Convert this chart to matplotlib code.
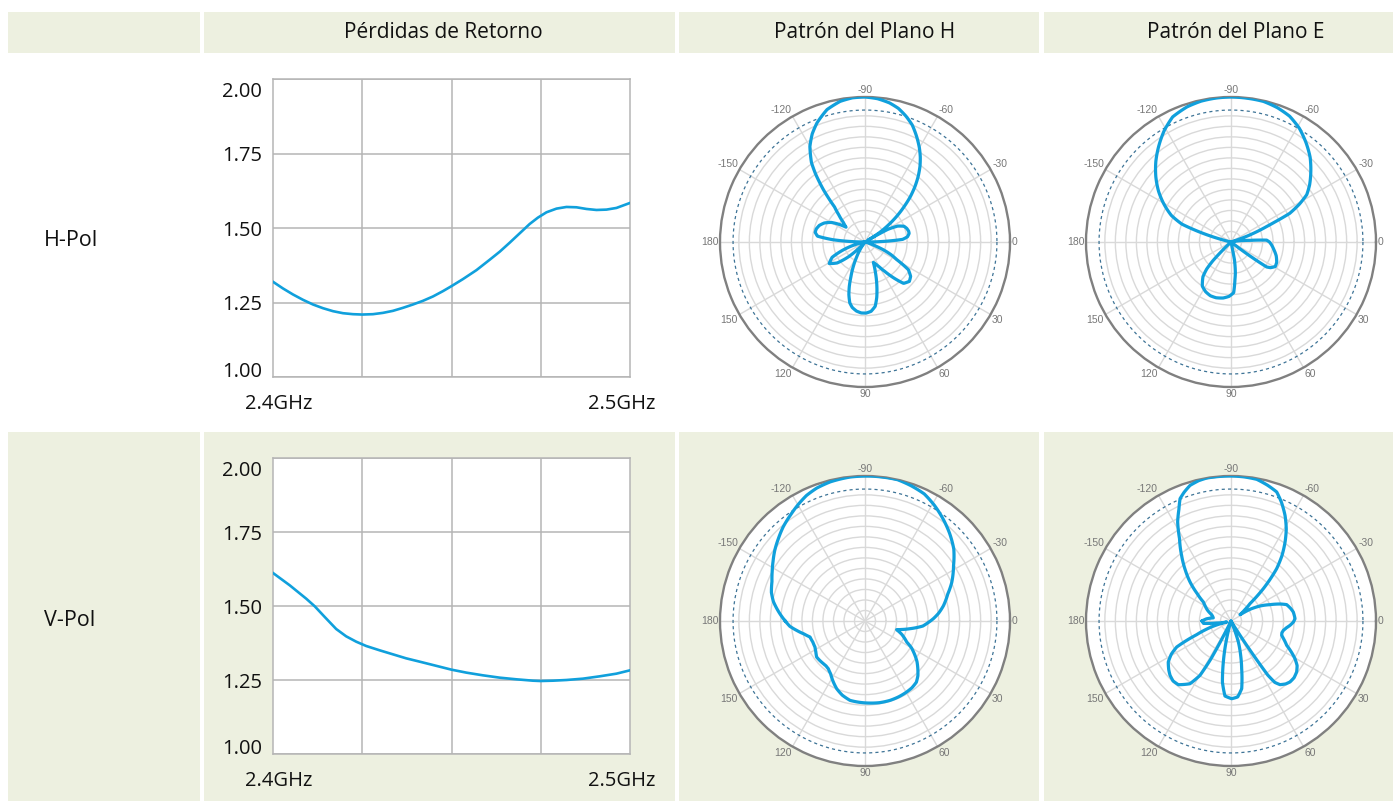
import numpy as np
import matplotlib.pyplot as plt
from matplotlib.patches import Rectangle
import matplotlib.transforms as mtransforms

plt.rcParams['font.family'] = ['Open Sans', 'DejaVu Sans']

W, H = 1396, 801
GREEN = '#edf0e0'
BLUE = '#10a0dc'
GRID = '#b5b5b5'
TEXT = '#111111'

col_titles = ['Pérdidas de Retorno', 'Patrón del Plano H', 'Patrón del Plano E']
row_titles = ['H-Pol', 'V-Pol']

# return loss (VSWR) curves, GHz
freq_h = [2.4000, 2.4028, 2.4056, 2.4084, 2.4112, 2.4140, 2.4168, 2.4196, 2.4224, 2.4250,
          2.4280, 2.4308, 2.4336, 2.4364, 2.4392, 2.4420, 2.4448, 2.4476, 2.4500, 2.4532,
          2.4570, 2.4607, 2.4635, 2.4663, 2.4691, 2.4719, 2.4742, 2.4766, 2.4794, 2.4822,
          2.4850, 2.4878, 2.4906, 2.4934, 2.4962, 2.5000]
vswr_h = [1.3195, 1.2971, 1.2769, 1.2590, 1.2433, 1.2309, 1.2209, 1.2141, 1.2108, 1.2096,
          1.2108, 1.2152, 1.2220, 1.2321, 1.2433, 1.2556, 1.2702, 1.2881, 1.3049, 1.3285,
          1.3587, 1.3935, 1.4204, 1.4507, 1.4821, 1.5135, 1.5348, 1.5527, 1.5650, 1.5706,
          1.5695, 1.5639, 1.5605, 1.5617, 1.5673, 1.5841]

freq_v = [2.4000, 2.4047, 2.4093, 2.4117, 2.4145, 2.4177, 2.4205, 2.4233, 2.4261, 2.4299,
          2.4336, 2.4373, 2.4411, 2.4448, 2.4500, 2.4542, 2.4588, 2.4635, 2.4682, 2.4728,
          2.4749, 2.4784, 2.4822, 2.4868, 2.4915, 2.4962, 2.5000]
vswr_v = [1.6115, 1.5698, 1.5248, 1.4989, 1.4628, 1.4223, 1.3975, 1.3795, 1.3649, 1.3502,
          1.3367, 1.3232, 1.3119, 1.3007, 1.2849, 1.2748, 1.2658, 1.2579, 1.2523, 1.2477,
          1.2466, 1.2477, 1.2500, 1.2545, 1.2624, 1.2714, 1.2827]

# radiation patterns: angle in degrees (0 = right, clockwise), relative radius
hpol_h_ang = [-180, -178, -176, -173, -169, -165, -160, -155, -150, -146, -142, -138, -134,
              -131, -128.5, -126, -124, -120, -116, -112, -106, -100, -95, -90, -85, -80,
              -76, -72, -68, -64, -60, -57, -54, -51, -48, -45, -42, -39, -36, -33, -31,
              -29, -26, -22, -18, -14, -11, -7, -4, -2, 0, 5, 15, 20, 23, 26, 29, 32.6,
              37, 41.6, 47, 50, 53, 56, 60, 63, 67.7, 71, 75, 78, 81, 85, 89, 93, 97,
              101, 104, 107, 109.5, 112, 115.6, 119, 123, 128, 133, 138, 143, 149, 155,
              160, 166, 170, 180]
hpol_h_r = [0.0, 0.10, 0.22, 0.33, 0.35, 0.348, 0.335, 0.31, 0.27, 0.22, 0.166, 0.20, 0.26,
            0.32, 0.46, 0.58, 0.66, 0.76, 0.83, 0.885, 0.95, 0.985, 0.998, 1.0, 0.992, 0.974,
            0.95, 0.913, 0.87, 0.811, 0.75, 0.70, 0.645, 0.583, 0.515, 0.442, 0.36, 0.281,
            0.20, 0.12, 0.02, 0.18, 0.25, 0.29, 0.303, 0.31, 0.31, 0.295, 0.26, 0.14, 0.02,
            0.0, 0.0, 0.06, 0.137, 0.20, 0.25, 0.355, 0.394, 0.409, 0.39, 0.339, 0.29, 0.245,
            0.20, 0.176, 0.152, 0.22, 0.316, 0.39, 0.449, 0.48, 0.49, 0.49, 0.48, 0.46,
            0.433, 0.38, 0.324, 0.26, 0.186, 0.12, 0.063, 0.0, 0.03, 0.15, 0.24, 0.288,
            0.25, 0.16, 0.05, 0.0, 0.0]

hpol_e_ang = [-180, -167, -165, -163, -160, -156, -150, -145, -139, -133, -127, -121, -115,
              -108, -102, -96, -90, -84, -77, -71, -65, -59, -53, -47, -41, -36, -32, -29,
              -26, -24.5, -23.5, -21.5, -20, -19, -18, -11, -7, -5, -3, 0, 4, 10, 17, 24,
              29, 33, 35, 36, 37, 38, 78, 79, 82, 84, 87, 92, 98, 105, 111, 117, 123, 129,
              132, 134, 135.5, 137, 180]
hpol_e_r = [0.0, 0.0, 0.08, 0.19, 0.36, 0.45, 0.539, 0.61, 0.687, 0.76, 0.828, 0.895, 0.952,
            0.98, 0.993, 0.998, 1.0, 0.998, 0.995, 0.98, 0.957, 0.915, 0.859, 0.80, 0.729,
            0.67, 0.616, 0.54, 0.45, 0.33, 0.27, 0.18, 0.115, 0.05, 0.0, 0.02, 0.08, 0.13,
            0.246, 0.265, 0.28, 0.30, 0.326, 0.345, 0.349, 0.325, 0.30, 0.20, 0.10, 0.0,
            0.0, 0.124, 0.216, 0.26, 0.35, 0.375, 0.39, 0.398, 0.397, 0.385, 0.363, 0.307,
            0.25, 0.18, 0.08, 0.0, 0.0]

vpol_h_ang = [-180, -175, -168, -163, -157, -152, -147, -142, -136.5, -131, -125, -120, -115,
              -110, -104, -96, -88, -82, -77, -71, -65, -59, -53, -46, -39, -32, -24, -18,
              -11, -6, -2, 2, 5, 9.7, 13, 15.3, 20, 26.7, 30, 34.5, 38, 42, 46, 50, 55, 60,
              66, 72.5, 80, 86.5, 94, 100.7, 107, 112.7, 118, 123, 127.6, 131, 134.3, 139,
              143.3, 148, 152.5, 158, 163.8, 168, 172.2, 176, 180]
vpol_h_r = [0.55, 0.59, 0.646, 0.675, 0.697, 0.725, 0.756, 0.79, 0.824, 0.86, 0.894, 0.925,
            0.955, 0.975, 0.989, 0.998, 1.0, 1.0, 1.0, 0.985, 0.967, 0.93, 0.889, 0.84,
            0.788, 0.72, 0.655, 0.60, 0.551, 0.51, 0.472, 0.43, 0.40, 0.315, 0.26, 0.226,
            0.27, 0.322, 0.37, 0.418, 0.455, 0.49, 0.525, 0.551, 0.563, 0.568, 0.572, 0.574,
            0.572, 0.567, 0.562, 0.557, 0.535, 0.506, 0.47, 0.435, 0.415, 0.41, 0.411, 0.414,
            0.416, 0.40, 0.389, 0.388, 0.395, 0.43, 0.476, 0.52, 0.55]

vpol_e_ang = [-180, -175, -170, -166, -162, -155, -150, -145.5, -141, -136.4, -132, -127, -122,
              -118.3, -115, -112.6, -110, -106.8, -103, -99.7, -95, -90, -85, -79.7, -75,
              -70.5, -67, -62.9, -59, -55.6, -52, -48.9, -47, -45, -43.5, -42.4, -39, -35,
              -31.6, -27, -22.7, -19, -16.4, -12, -8.2, -2.1, 1, 4.2, 7, 10.1, 13, 15.8, 19,
              23.6, 27, 30.5, 34, 37.8, 42, 45.9, 49, 52.4, 54.5, 55.8, 56.3, 57, 58, 60, 67,
              68, 70.7, 74.3, 77.4, 81, 85, 89.5, 94.6, 98, 100.6, 103.8, 106, 115, 116.5,
              117.3, 118, 119.7, 123.2, 129.6, 134, 138.3, 142, 146.8, 151, 154.4, 158.3, 161,
              164, 167, 172, 175, 180]
vpol_e_r = [0.20, 0.17, 0.124, 0.13, 0.14, 0.18, 0.205, 0.231, 0.30, 0.39, 0.47, 0.566, 0.67,
            0.776, 0.85, 0.914, 0.945, 0.977, 0.993, 1.0, 1.0, 1.0, 0.998, 0.993, 0.97, 0.944,
            0.89, 0.818, 0.74, 0.66, 0.57, 0.479, 0.40, 0.315, 0.24, 0.177, 0.12, 0.076,
            0.154, 0.23, 0.292, 0.36, 0.40, 0.42, 0.434, 0.442, 0.43, 0.408, 0.385, 0.367,
            0.36, 0.363, 0.385, 0.419, 0.465, 0.512, 0.55, 0.573, 0.585, 0.585, 0.575, 0.554,
            0.52, 0.45, 0.35, 0.22, 0.08, 0.0, 0.0, 0.05, 0.153, 0.246, 0.337, 0.472, 0.526,
            0.536, 0.519, 0.425, 0.288, 0.125, 0.03, 0.0, 0.08, 0.20, 0.30, 0.431, 0.517,
            0.57, 0.575, 0.563, 0.545, 0.517, 0.47, 0.415, 0.255, 0.19, 0.12, 0.03, 0.10,
            0.19, 0.20]

angle_labels = [-150, -120, -90, -60, -30, 0, 30, 60, 90, 120, 150, 180]
ring_radii = [0.0725 * k for k in range(1, 13)]

fig = plt.figure(figsize=(W / 100, H / 100), dpi=100)
fig.patch.set_facecolor('white')


def cell(x0, y0, x1, y1, color):
    fig.add_artist(Rectangle((x0 / W, 1 - y1 / H), (x1 - x0) / W, (y1 - y0) / H,
                             transform=fig.transFigure, facecolor=color,
                             edgecolor='none', zorder=-10))


def px_axes(left, top, width, height, **kw):
    return fig.add_axes([left / W, 1 - (top + height) / H, width / W, height / H], **kw)


def shift(dx, dy):
    return mtransforms.ScaledTranslation(dx / 100, -dy / 100, fig.dpi_scale_trans)


cols = [(8, 200), (204, 675), (679, 1039), (1044, 1393)]
for x0, x1 in cols:
    cell(x0, 12, x1, 53, GREEN)
    cell(x0, 432, x1, 801, GREEN)

for title, xc in zip(col_titles, [443, 865, 1236]):
    fig.text(xc / W, 1 - 32 / H, title, ha='center', va='center', fontsize=15, color=TEXT)

for title, yc in zip(row_titles, [241, 621]):
    fig.text(44 / W, 1 - yc / H, title, ha='left', va='center', fontsize=15.5, color=TEXT)


def return_loss(ax, f, v):
    ax.set_facecolor('white')
    ax.plot(f, v, color=BLUE, lw=1.9, zorder=3)
    ax.set_xlim(2.4, 2.5)
    ax.set_ylim(1.0, 2.0)
    ax.set_xticks([])
    ax.set_xticks([2.425, 2.45, 2.475], minor=True)
    ax.set_yticks([1.0, 1.25, 1.5, 1.75, 2.0])
    ax.set_yticklabels(['1.00', '1.25', '1.50', '1.75', '2.00'])
    ax.xaxis.grid(True, which='minor', color=GRID, lw=1.1)
    ax.yaxis.grid(True, which='major', color=GRID, lw=1.1)
    ax.tick_params(which='both', length=0)
    ax.tick_params(axis='y', pad=8, labelsize=14.5, labelcolor=TEXT)
    for s in ax.spines.values():
        s.set_color(GRID)
        s.set_linewidth(1.1)
    labels = ax.get_yticklabels()
    labels[-1].set_va('top')
    labels[-1].set_transform(labels[-1].get_transform() + shift(0, 3))
    labels[0].set_va('baseline')
    for xv, txt, dx in [(2.4, '2.4GHz', 6), (2.5, '2.5GHz', -8)]:
        ax.text(xv, 0, txt, transform=ax.get_xaxis_transform() + shift(dx, 17),
                ha='center', va='top', fontsize=14.5, color=TEXT, clip_on=False)


def pattern(ax, ang, r):
    ax.set_theta_zero_location('E')
    ax.set_theta_direction(-1)
    ax.set_facecolor('white')
    ax.set_ylim(0, 1)
    ax.set_xticks(np.deg2rad(np.arange(0, 360, 30)))
    ax.set_xticklabels([])
    ax.set_yticks(ring_radii)
    ax.set_yticklabels([])
    ax.tick_params(length=0)
    ax.grid(color='#d9d9d9', lw=1.0)
    ax.spines['polar'].set_color('#808080')
    ax.spines['polar'].set_linewidth(1.7)
    circ = np.linspace(0, 2 * np.pi, 361)
    ax.plot(circ, np.full_like(circ, 0.91), color='#3d7396', lw=0.9, ls=(0, (2.5, 2.5)))
    line, = ax.plot(np.deg2rad(ang), r, color=BLUE, lw=2.3, zorder=4,
                    solid_joinstyle='round')
    # draw segments as arcs/spirals in polar space rather than chords
    line.recache(always=True)
    line._path._interpolation_steps = 12
    for a in angle_labels:
        x, y = np.cos(np.deg2rad(a)), -np.sin(np.deg2rad(a))
        ha = 'left' if x > 0.01 else ('right' if x < -0.01 else 'center')
        va = 'bottom' if y > 0.01 else ('top' if y < -0.01 else 'center')
        ax.text(np.deg2rad(a), 1.012, str(a), ha=ha, va=va, fontsize=7.5,
                color='#777777', family='Liberation Sans', clip_on=False)


ax = px_axes(273, 79, 357, 298)
return_loss(ax, freq_h, vswr_h)
ax = px_axes(273, 458, 357, 296)
return_loss(ax, freq_v, vswr_v)

R = 145
for (cx, cy), ang, r in [((865, 242), hpol_h_ang, hpol_h_r),
                         ((1231, 242), hpol_e_ang, hpol_e_r),
                         ((865, 621), vpol_h_ang, vpol_h_r),
                         ((1231, 621), vpol_e_ang, vpol_e_r)]:
    ax = px_axes(cx - R, cy - R, 2 * R, 2 * R, projection='polar')
    pattern(ax, ang, r)

fig.savefig('out.png', dpi=100, facecolor=fig.get_facecolor())
